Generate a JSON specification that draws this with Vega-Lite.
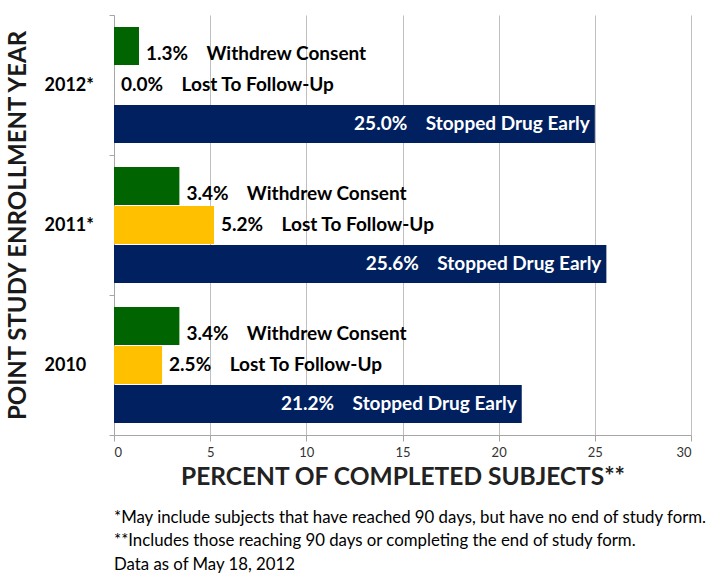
{
  "$schema": "https://vega.github.io/schema/vega-lite/v6.json",
  "width": 577,
  "height": 420,
  "autosize": {"type": "pad"},
  "padding": {"left": 6, "top": 6, "right": 2, "bottom": 0},
  "background": "white",
  "config": {"font": "Lato", "view": {"stroke": null}},
  "title": {
    "text": [
      "*May include subjects that have reached 90 days, but have no end of study form.",
      "**Includes those reaching 90 days or completing the end of study form.",
      "Data as of May 18, 2012"
    ],
    "orient": "bottom",
    "anchor": "start",
    "frame": "group",
    "font": "Lato",
    "fontSize": 16.8,
    "fontWeight": "normal",
    "lineHeight": 23.5,
    "color": "#000000",
    "offset": 21
  },
  "data": {
    "values": [
      {"year": "2012*", "category": "Withdrew Consent", "value": 1.3},
      {"year": "2012*", "category": "Lost To Follow-Up", "value": 0.0},
      {"year": "2012*", "category": "Stopped Drug Early", "value": 25.0},
      {"year": "2011*", "category": "Withdrew Consent", "value": 3.4},
      {"year": "2011*", "category": "Lost To Follow-Up", "value": 5.2},
      {"year": "2011*", "category": "Stopped Drug Early", "value": 25.6},
      {"year": "2010", "category": "Withdrew Consent", "value": 3.4},
      {"year": "2010", "category": "Lost To Follow-Up", "value": 2.5},
      {"year": "2010", "category": "Stopped Drug Early", "value": 21.2}
    ]
  },
  "transform": [
    {"calculate": "format(datum.value, '.1f') + '%\u00a0\u00a0\u00a0\u00a0' + datum.category", "as": "label"}
  ],
  "encoding": {
    "y": {
      "field": "year",
      "type": "nominal",
      "sort": ["2012*", "2011*", "2010"],
      "scale": {"paddingInner": 0, "paddingOuter": 0},
      "axis": {
        "title": "POINT STUDY ENROLLMENT YEAR",
        "titleFontSize": 24,
        "titleFontWeight": "bold",
        "titleColor": "#1a1a1a",
        "titlePadding": 14,
        "labelAlign": "left",
        "labelPadding": 65,
        "labelFontSize": 18,
        "labelFontWeight": "bold",
        "labelColor": "#000000",
        "tickBand": "extent",
        "tickSize": 5,
        "tickColor": "#a6a6a6",
        "domainColor": "#a6a6a6",
        "grid": false
      }
    },
    "yOffset": {
      "field": "category",
      "type": "nominal",
      "sort": ["Withdrew Consent", "Lost To Follow-Up", "Stopped Drug Early"],
      "scale": {"paddingOuter": 0.31, "paddingInner": 0.03}
    },
    "x": {
      "field": "value",
      "type": "quantitative",
      "scale": {"domain": [0, 30], "nice": false},
      "axis": {
        "values": [0, 5, 10, 15, 20, 25, 30],
        "grid": true,
        "gridColor": "#bfbfbf",
        "domainColor": "#a6a6a6",
        "tickColor": "#a6a6a6",
        "tickSize": 6,
        "labelFontSize": 13,
        "labelColor": "#333333",
        "labelPadding": 5,
        "title": "PERCENT OF COMPLETED SUBJECTS**",
        "titleFontSize": 24.5,
        "titleFontWeight": "bold",
        "titleColor": "#222222",
        "titlePadding": 6
      }
    }
  },
  "layer": [
    {
      "mark": {"type": "bar"},
      "encoding": {
        "color": {
          "field": "category",
          "type": "nominal",
          "scale": {
            "domain": ["Withdrew Consent", "Lost To Follow-Up", "Stopped Drug Early"],
            "range": ["#006400", "#FFC000", "#002060"]
          },
          "legend": null
        }
      }
    },
    {
      "transform": [{"filter": "datum.category === 'Withdrew Consent'"}],
      "mark": {"type": "text", "align": "left", "baseline": "middle", "dx": 7, "dy": 8, "fontSize": 19, "fontWeight": "bold", "color": "#000000"},
      "encoding": {"text": {"field": "label"}}
    },
    {
      "transform": [{"filter": "datum.category === 'Lost To Follow-Up'"}],
      "mark": {"type": "text", "align": "left", "baseline": "middle", "dx": 7, "fontSize": 19, "fontWeight": "bold", "color": "#000000"},
      "encoding": {"text": {"field": "label"}}
    },
    {
      "transform": [{"filter": "datum.category === 'Stopped Drug Early'"}],
      "mark": {"type": "text", "align": "right", "baseline": "middle", "dx": -5, "fontSize": 19, "fontWeight": "bold", "color": "#ffffff"},
      "encoding": {"text": {"field": "label"}}
    }
  ]
}
